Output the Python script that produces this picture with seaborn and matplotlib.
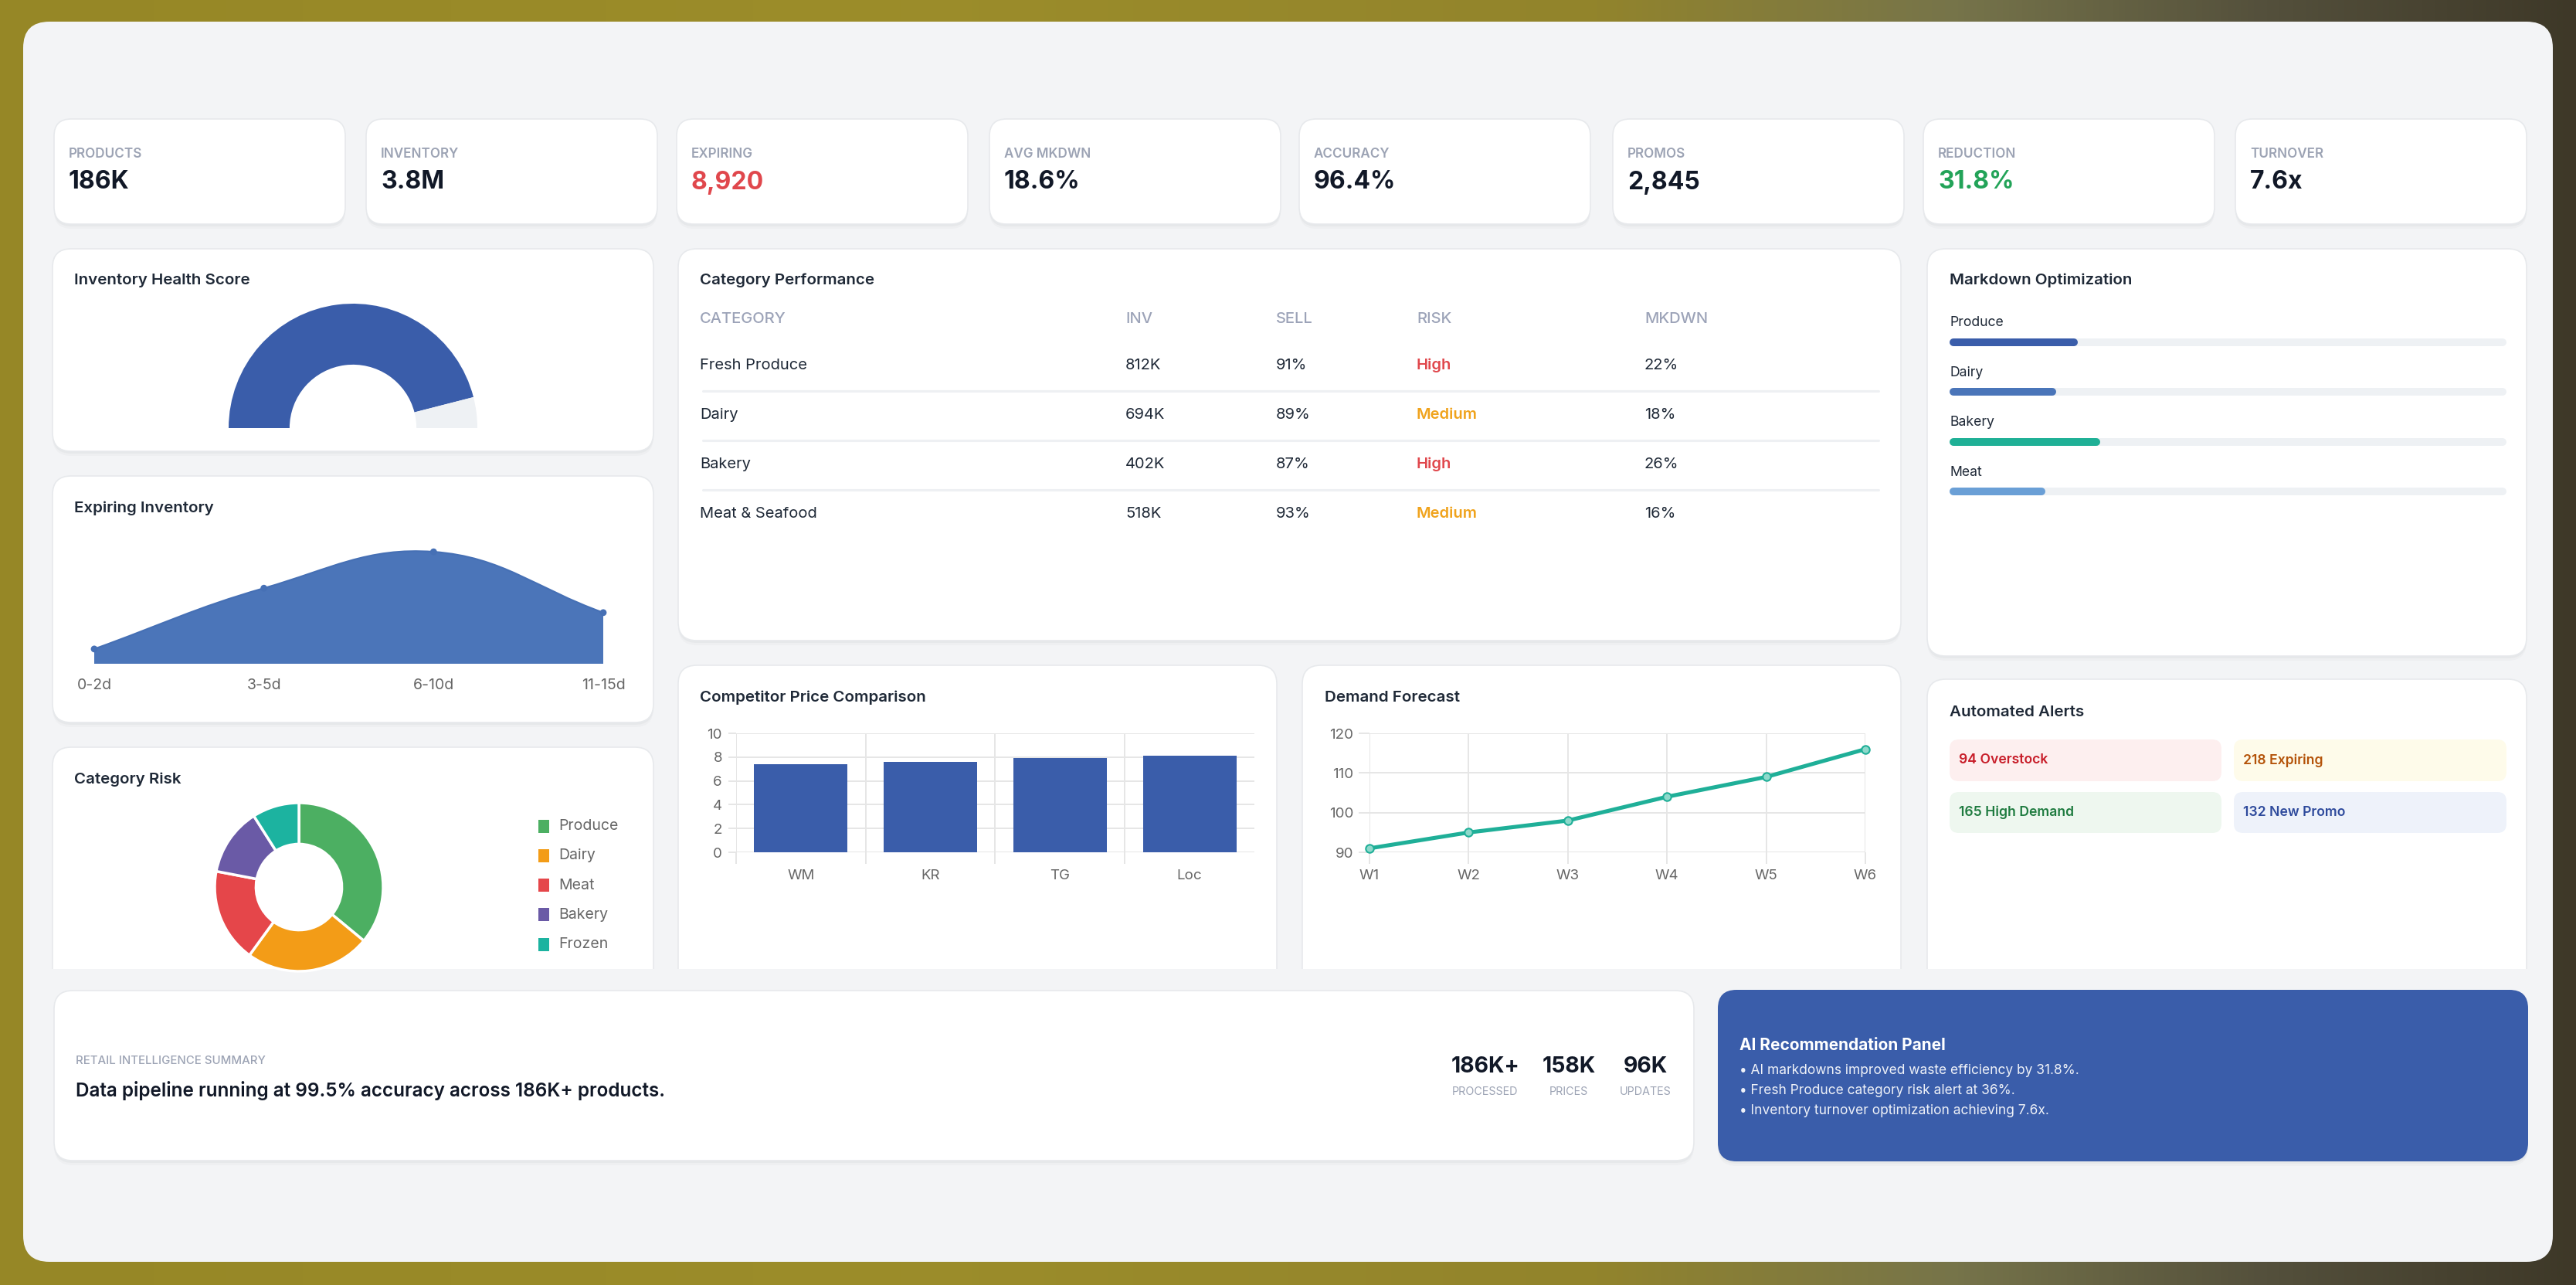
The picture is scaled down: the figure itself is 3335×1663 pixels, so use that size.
import numpy as np
import matplotlib
matplotlib.use("Agg")
import matplotlib.pyplot as plt
import seaborn as sns
from matplotlib.patches import FancyBboxPatch, Rectangle, PathPatch
from matplotlib.path import Path

# ---------------- data ----------------
KPI_LABELS = ["PRODUCTS", "INVENTORY", "EXPIRING", "AVG MKDWN", "ACCURACY", "PROMOS", "REDUCTION", "TURNOVER"]
KPI_VALUES = ["186K", "3.8M", "8,920", "18.6%", "96.4%", "2,845", "31.8%", "7.6x"]
KPI_COLORS = ["#111827", "#111827", "#E0474C", "#111827", "#111827", "#111827", "#22A358", "#111827"]

HEALTH = [92, 8]

EXPIRY_BUCKETS = ["0-2d", "3-5d", "6-10d", "11-15d"]
EXPIRY_UNITS = [520, 2660, 3940, 1800]

RISK_CATS = ["Produce", "Dairy", "Meat", "Bakery", "Frozen"]
RISK_SHARE = [36, 24, 18, 13, 9]
RISK_COLORS = ["#4CAF62", "#F39C17", "#E5464A", "#6A5AA6", "#1CB3A0"]

TABLE_HEAD = ["CATEGORY", "INV", "SELL", "RISK", "MKDWN"]
TABLE_CATS = ["Fresh Produce", "Dairy", "Bakery", "Meat & Seafood"]
TABLE_INV = ["812K", "694K", "402K", "518K"]
TABLE_SELL = ["91%", "89%", "87%", "93%"]
TABLE_RISK = ["High", "Medium", "High", "Medium"]
TABLE_MKDWN = ["22%", "18%", "26%", "16%"]

COMPETITORS = ["WM", "KR", "TG", "Loc"]
PRICES = [7.4, 7.6, 7.9, 8.1]

WEEKS = ["W1", "W2", "W3", "W4", "W5", "W6"]
DEMAND = [91, 95, 98, 104, 109, 116]

MD_CATS = ["Produce", "Dairy", "Bakery", "Meat"]
MD_PCT = [22, 18, 26, 16]
MD_COLORS = ["#3A5DAA", "#4A75B9", "#1FB096", "#6A9FD6"]

ALERTS = ["94 Overstock", "218 Expiring", "165 High Demand", "132 New Promo"]
ALERT_BG = ["#FDEFEF", "#FEFBEA", "#EEF7EF", "#EEF2FA"]
ALERT_FG = ["#C81E2A", "#B45309", "#1E7B3F", "#2E4A9C"]

SUMMARY_STATS = ["186K+", "158K", "96K"]
SUMMARY_LABELS = ["PROCESSED", "PRICES", "UPDATES"]
AI_BULLETS = ["\u2022 AI markdowns improved waste efficiency by 31.8%.",
              "\u2022 Fresh Produce category risk alert at 36%.",
              "\u2022 Inventory turnover optimization achieving 7.6x."]

# ---------------- setup ----------------
sns.set_theme(style="white")
plt.rcParams["font.family"] = ["Inter", "DejaVu Sans"]

W, H = 3335, 1663
fig = plt.figure(figsize=(W / 100, H / 100), dpi=100)

def px_axes(x0, y0, x1, y1, z=5):
    ax = fig.add_axes([x0 / W, 1 - y1 / H, (x1 - x0) / W, (y1 - y0) / H])
    ax.set_zorder(z)
    ax.patch.set_alpha(0)
    return ax

bg = fig.add_axes([0, 0, 1, 1])
bg.set_xlim(0, W)
bg.set_ylim(H, 0)
bg.axis("off")
bg.set_zorder(0)

# outer photo-like gradient background
stops = np.array([0.0, 0.35, 0.62, 0.76, 0.88, 1.0])
cols = np.array([[150, 135, 38], [156, 141, 42], [146, 132, 44], [118, 116, 74], [84, 80, 60], [62, 56, 40]]) / 255
xx = np.linspace(0, 1, 400)
grad = np.stack([np.interp(xx, stops, cols[:, k]) for k in range(3)], axis=-1)[None, :, :]
bg.imshow(grad, extent=[0, W, H, 0], aspect="auto", zorder=0)

bg.add_patch(FancyBboxPatch((30, 28), 3275, 1605, boxstyle="round,pad=0,rounding_size=34",
                            fc="#F3F4F6", ec="none", zorder=1))

CLIP_Y = 1254

def card(x0, y0, x1, y1, fc="white", r=24, clip=False, shadow=True):
    hh = (y1 - y0) if not clip else (CLIP_Y - y0 + 40)
    arts = []
    if shadow:
        for off, a in [(6, 0.025), (3, 0.035)]:
            s = FancyBboxPatch((x0, y0 + off), x1 - x0, hh, boxstyle=f"round,pad=0,rounding_size={r}",
                               fc="#1F2937", ec="none", alpha=a, zorder=2)
            arts.append(s)
    p = FancyBboxPatch((x0, y0), x1 - x0, hh, boxstyle=f"round,pad=0,rounding_size={r}",
                       fc=fc, ec="#E7E9EC" if fc == "white" else "none", lw=1.2, zorder=3)
    arts.append(p)
    for a in arts:
        bg.add_patch(a)
        if clip:
            a.set_clip_path(Rectangle((x0 - 20, y0 - 20), x1 - x0 + 40, CLIP_Y - y0 + 20, transform=bg.transData))

TITLE_KW = dict(fontsize=14.8, fontweight="semibold", color="#1F2937", va="center", ha="left", zorder=6)

# ---------------- KPI cards ----------------
kx = [70, 474, 876, 1281, 1682, 2088, 2490, 2894]
for x, lab, val, c in zip(kx, KPI_LABELS, KPI_VALUES, KPI_COLORS):
    card(x, 154, x + 377, 290, r=22)
    bg.text(x + 19, 199, lab, fontsize=12.3, fontweight="semibold", color="#9CA3B4", va="center", zorder=6)
    bg.text(x + 19, 236, val, fontsize=23, fontweight="bold", color=c, va="center", zorder=6)

# ---------------- cards ----------------
card(68, 322, 846, 584)
card(68, 616, 846, 935)
card(68, 967, 846, 1254, clip=True)
card(878, 322, 2461, 829)
card(878, 861, 1653, 1254, clip=True)
card(1686, 861, 2461, 1254, clip=True)
card(2495, 322, 3271, 849)
card(2495, 879, 3271, 1254, clip=True)
card(70, 1282, 2193, 1502)
card(2224, 1281, 3273, 1503, fc="#3A5DAA")

bg.text(96, 363, "Inventory Health Score", **TITLE_KW)
bg.text(96, 658, "Expiring Inventory", **TITLE_KW)
bg.text(96, 1009, "Category Risk", **TITLE_KW)
bg.text(906, 363, "Category Performance", **TITLE_KW)
bg.text(906, 903, "Competitor Price Comparison", **TITLE_KW)
bg.text(1715, 903, "Demand Forecast", **TITLE_KW)
bg.text(2524, 363, "Markdown Optimization", **TITLE_KW)
bg.text(2524, 922, "Automated Alerts", **TITLE_KW)

# ---------------- gauge ----------------
axg = px_axes(296, 393, 618, 554)
axg.pie(HEALTH + [sum(HEALTH)], colors=["#3A5DAA", "#EEF1F4", (0, 0, 0, 0)], startangle=180,
        counterclock=False, radius=1, wedgeprops=dict(width=0.49, linewidth=0))
axg.set_aspect("auto")
axg.set_xlim(-1, 1)
axg.set_ylim(0, 1)
axg.axis("off")

# ---------------- expiring area ----------------
def spline_path(xs, ys, sx, sy, tension=0.4):
    P = np.column_stack([np.asarray(xs, float) * sx, np.asarray(ys, float) * sy])
    n = len(P)
    cp_prev = P.copy()
    cp_next = P.copy()
    for i in range(n):
        prev = P[i - 1] if i > 0 else P[i]
        nxt = P[i + 1] if i < n - 1 else P[i]
        d01 = np.hypot(*(P[i] - prev))
        d12 = np.hypot(*(nxt - P[i]))
        tot = d01 + d12
        s01 = d01 / tot if tot else 0
        s12 = d12 / tot if tot else 0
        cp_prev[i] = P[i] - tension * s01 * (nxt - prev)
        cp_next[i] = P[i] + tension * s12 * (nxt - prev)
    verts = [P[0]]
    codes = [Path.MOVETO]
    for i in range(n - 1):
        verts += [cp_next[i], cp_prev[i + 1], P[i + 1]]
        codes += [Path.CURVE4] * 3
    return np.array(verts) / [sx, sy], codes

axe = px_axes(122, 700, 781, 859)
ex = np.arange(len(EXPIRY_UNITS))
ymax = 4325
v, cds = spline_path(ex, EXPIRY_UNITS, 659 / 3, 159 / ymax)
fill_v = np.vstack([v, [[ex[-1], 0], [ex[0], 0], v[0]]])
fill_c = cds + [Path.LINETO, Path.LINETO, Path.CLOSEPOLY]
axe.add_patch(PathPatch(Path(fill_v, fill_c), fc="#4B75B9", ec="none"))
axe.add_patch(PathPatch(Path(v, cds), fc="none", ec="#4670B5", lw=1.6))
sns.scatterplot(x=ex, y=EXPIRY_UNITS, ax=axe, color="#4670B5", s=40, edgecolor="none", clip_on=False, zorder=5)
axe.set_xlim(0, 3)
axe.set_ylim(0, ymax)
axe.set_xticks(ex)
axe.set_xticklabels(EXPIRY_BUCKETS, fontsize=14, color="#666666")
axe.tick_params(axis="x", length=0, pad=14)
axe.set_yticks([])
axe.set_xlabel("")
axe.set_ylabel("")
for s in axe.spines.values():
    s.set_visible(False)

# ---------------- category risk donut ----------------
axd = px_axes(278, 1039, 496, 1254)
axd.pie(RISK_SHARE, colors=RISK_COLORS, startangle=90, counterclock=False, radius=1,
        wedgeprops=dict(width=0.49, edgecolor="white", linewidth=2.5))
axd.set_aspect("auto")
axd.set_xlim(-1, 1)
axd.set_ylim(-(1254 - 1148) / 109, 1)
axd.axis("off")

for i, (lab, c) in enumerate(zip(RISK_CATS, RISK_COLORS)):
    yc = 1069 + i * 38.3
    bg.add_patch(Rectangle((697, yc - 8.5), 14, 17, fc=c, ec="none", zorder=6))
    bg.text(723, yc, lab, fontsize=14, color="#666666", va="center", zorder=6)

# ---------------- category performance table ----------------
col_x = [906, 1457, 1652, 1834, 2129]
for x, h in zip(col_x, TABLE_HEAD):
    bg.text(x, 413, h, fontsize=14.5, fontweight="medium", color="#9CA3B8", va="center", zorder=6)
risk_col = {"High": "#E0474C", "Medium": "#F0A31C"}
row_y = [473, 537, 601, 665]
for i, y in enumerate(row_y):
    vals = [TABLE_CATS[i], TABLE_INV[i], TABLE_SELL[i], TABLE_RISK[i], TABLE_MKDWN[i]]
    for j, (x, t) in enumerate(zip(col_x, vals)):
        if j == 3:
            bg.text(x, y, t, fontsize=14.5, fontweight="semibold", color=risk_col[t], va="center", zorder=6)
        else:
            bg.text(x, y, t, fontsize=14.5, color="#1F2937", va="center", zorder=6)
    if i < len(row_y) - 1:
        bg.plot([910, 2432], [y + 33, y + 33], color="#EEF0F3", lw=2.2, zorder=6)

# ---------------- competitor bars ----------------
GRID = "#E6E6E6"
axc = px_axes(953, 949, 1624, 1103)
sns.barplot(x=COMPETITORS, y=PRICES, ax=axc, color="#3A5DAA", saturation=1, width=0.72, linewidth=0)
axc.set_xlim(-0.5, 3.5)
axc.set_ylim(0, 10)
axc.set_yticks(np.arange(0, 11, 2))
axc.set_xticks(np.arange(-0.5, 3.0, 1.0), minor=True)
axc.set_axisbelow(True)
axc.grid(axis="y", which="major", color=GRID, lw=1.4)
axc.grid(axis="x", which="minor", color=GRID, lw=1.4)
axc.grid(axis="x", which="major", visible=False)
axc.tick_params(axis="y", which="major", length=7, color=GRID, width=1.4, pad=6, labelsize=13.5, labelcolor="#666666", left=True)
axc.tick_params(axis="x", which="minor", length=11, color=GRID, width=1.4, bottom=True)
axc.tick_params(axis="x", which="major", length=0, pad=16, labelsize=13.5, labelcolor="#666666")
axc.set_xlabel("")
axc.set_ylabel("")
for s in axc.spines.values():
    s.set_visible(False)

# ---------------- demand line ----------------
axf = px_axes(1773, 949, 2415, 1103)
wx = np.arange(len(DEMAND))
sns.lineplot(x=wx, y=DEMAND, ax=axf, color="#1FAF98", lw=3.7, marker="o", markersize=7.5,
             markerfacecolor="#8ED9CB", markeredgecolor="#1FAF98", markeredgewidth=1.5, clip_on=False, zorder=5)
axf.set_xlim(0, 5)
axf.set_ylim(90, 120)
axf.set_yticks([90, 100, 110, 120])
axf.set_xticks(wx)
axf.set_xticklabels(WEEKS)
axf.set_axisbelow(True)
axf.grid(True, color=GRID, lw=1.4)
axf.tick_params(axis="y", length=10, color=GRID, width=1.4, pad=5, labelsize=13.5, labelcolor="#666666", left=True)
axf.tick_params(axis="x", length=11, color=GRID, width=1.4, pad=5, labelsize=13.5, labelcolor="#666666", bottom=True)
axf.set_xlabel("")
axf.set_ylabel("")
for s in axf.spines.values():
    s.set_visible(False)

# ---------------- markdown optimization bars ----------------
step = (636 - 443) / 3
axm = px_axes(2529, 443 - step / 2, 3240, 636 + step / 2)
axm.set_xlim(0, 100)
axm.set_ylim(len(MD_PCT) - 0.5, -0.5)
for i, (lab, pct, c) in enumerate(zip(MD_CATS, MD_PCT, MD_COLORS)):
    axm.plot([0, 100], [i, i], color="#EEF1F4", lw=7.2, solid_capstyle="round", clip_on=False)
    axm.plot([0, pct], [i, i], color=c, lw=7.2, solid_capstyle="round", clip_on=False)
    axm.text(-0.7, i - 25 / step, lab, fontsize=12.7, color="#1F2937", va="center", ha="left")
axm.axis("off")

# ---------------- alerts ----------------
boxes = [(2524, 957, 2876, 1011), (2892, 957, 3245, 1011), (2524, 1025, 2876, 1078), (2892, 1025, 3245, 1078)]
for (x0, y0, x1, y1), t, b, f in zip(boxes, ALERTS, ALERT_BG, ALERT_FG):
    bg.add_patch(FancyBboxPatch((x0, y0), x1 - x0, y1 - y0, boxstyle="round,pad=0,rounding_size=12",
                                fc=b, ec="none", zorder=6))
    bg.text(x0 + 12, (y0 + y1) / 2, t, fontsize=12.7, fontweight="semibold", color=f, va="center", zorder=7)

# ---------------- summary ----------------
bg.text(98, 1373, "RETAIL INTELLIGENCE SUMMARY", fontsize=10.8, fontweight="medium", color="#9CA3B4", va="center", zorder=6)
bg.text(98, 1412, "Data pipeline running at 99.5% accuracy across 186K+ products.", fontsize=17.5,
        fontweight="semibold", color="#111827", va="center", zorder=6)
for x, v_, l in zip([1923, 2031, 2130], SUMMARY_STATS, SUMMARY_LABELS):
    bg.text(x, 1381, v_, fontsize=20.5, fontweight="bold", color="#111827", va="center", ha="center", zorder=6)
    bg.text(x, 1413, l, fontsize=10.3, color="#9CA3B4", va="center", ha="center", zorder=6)

# ---------------- AI panel ----------------
bg.text(2252, 1353, "AI Recommendation Panel", fontsize=15, fontweight="bold", color="white", va="center", zorder=6)
for y, t in zip([1386, 1412, 1437], AI_BULLETS):
    bg.text(2252, y, t, fontsize=12.5, color="white", alpha=0.92, va="center", zorder=6)

fig.savefig("out.png", dpi=100)
